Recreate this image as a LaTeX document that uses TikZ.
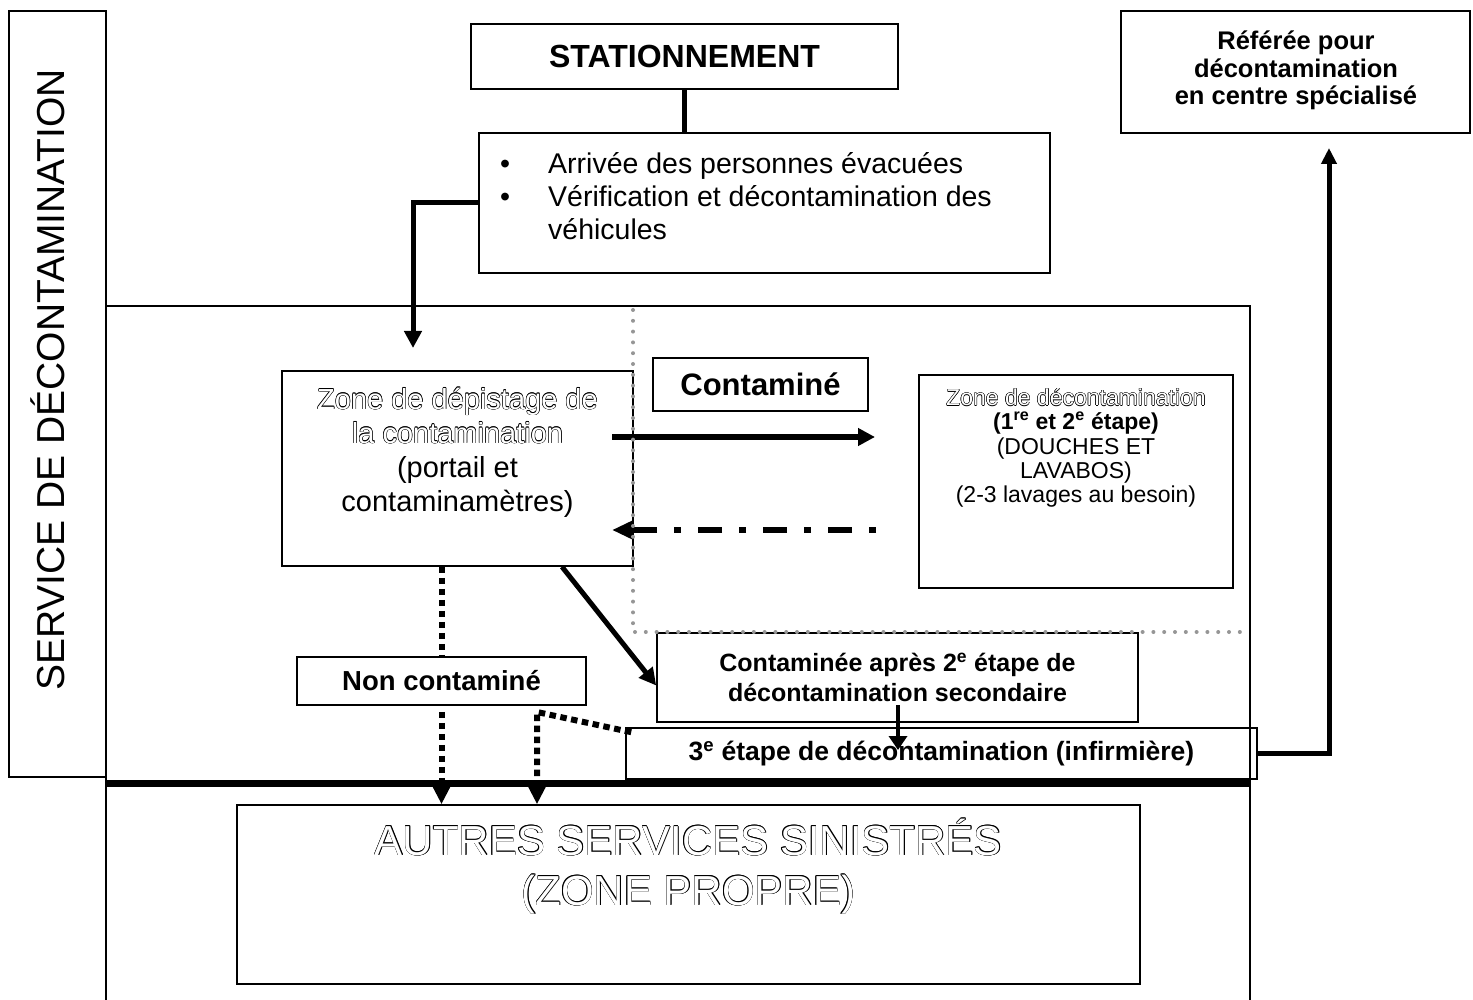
\documentclass[tikz,border=0pt]{standalone}
\usepackage{fontspec}
\setmainfont{Liberation Sans}
\usetikzlibrary{arrows.meta,calc}
\definecolor{dotgray}{RGB}{150,150,150}
\newlength\olw
\setlength\olw{0.5pt}
\newcommand\olc[3]{\makebox[0pt][l]{\hspace*{#1}\raisebox{#2}{#3}}}
\newcommand\outl[1]{{\color{black}\olc{\olw}{0pt}{#1}\olc{-\olw}{0pt}{#1}\olc{0pt}{\olw}{#1}\olc{0pt}{-\olw}{#1}\olc{.7\olw}{.7\olw}{#1}\olc{-.7\olw}{.7\olw}{#1}\olc{.7\olw}{-.7\olw}{#1}\olc{-.7\olw}{-.7\olw}{#1}}{\color{white}#1}}
\begin{document}
\begin{tikzpicture}[x=1pt,y=-1pt,
  box/.style={draw, line width=1.6pt, inner sep=0pt, align=center},
  conn/.style={line width=4.5pt},
  arr/.style={line width=5.5pt, -{Triangle[length=17pt,width=17pt]}},
  dotarr/.style={line width=6pt, dash pattern=on 6.5pt off 4.5pt, -{Triangle[length=17pt,width=16pt]}},
  dotline/.style={line width=6pt, dash pattern=on 6.5pt off 4.5pt},
  dasharr/.style={line width=6pt, dash pattern=on 7pt off 17pt on 24pt off 17pt, -{Triangle[length=20pt,width=17pt]}},
  graydots/.style={draw=dotgray, line width=4pt, dash pattern=on 0pt off 10.8pt, line cap=round},
]
\fill[white] (0,0) rectangle (1473,1000);
\useasboundingbox (0,0) rectangle (1473,1000);

% frame of the service
\draw[line width=1.6pt] (106,1004) -- (106,306) -- (1250,306) -- (1250,1004);
\draw[line width=7pt] (106,783) -- (1250,783);

% nodes
\node[box, minimum width=97pt, minimum height=766pt] (svcbox) at (57.5,394) {};
\node[rotate=90, inner sep=0pt, font=\fontsize{39}{45}\selectfont] (svc) at (48,380) {SERVICE DE DÉCONTAMINATION};

\node[box, minimum width=427pt, minimum height=65pt, font=\fontsize{32}{38}\selectfont\bfseries] (stat) at (684.5,56.5) {STATIONNEMENT};

\node[box, minimum width=571pt, minimum height=140pt] (bul) at (764.5,203) {};
\node[anchor=north west, inner sep=0pt, align=left, font=\fontsize{28.5}{33}\selectfont] (bultxt) at (500,152)
  {\makebox[48pt][l]{•}Arrivée des personnes évacuées\\
   \makebox[48pt][l]{•}Vérification et décontamination des\\
   \hspace*{48pt}véhicules};

\node[box, minimum width=349pt, minimum height=122pt] (ref) at (1295.5,72) {};
\node[anchor=north, inner sep=0pt, align=center, font=\fontsize{25.5}{27.5}\selectfont\bfseries] (reftxt) at (1296,31)
  {Référée pour\\décontamination\\en centre spécialisé};

\node[box, minimum width=351pt, minimum height=195pt] (zdep) at (457.5,468.5) {};
\node[anchor=north, inner sep=0pt, align=center, font=\fontsize{29}{34}\selectfont] (zdeptxt) at (457.5,387)
  {\outl{Zone de dépistage de}\\\outl{la contamination}\\(portail et\\contaminamètres)};

\node[box, minimum width=215pt, minimum height=53pt, font=\fontsize{31}{36}\selectfont\bfseries] (cont) at (760.5,384.5) {Contaminé};

\node[box, minimum width=314pt, minimum height=213pt] (zdec) at (1076,481.5) {};
\node[anchor=north, inner sep=0pt, align=center, font=\fontsize{23}{24.2}\selectfont] (zdectxt) at (1076,388)
  {\outl{Zone de décontamination}\\\textbf{(1\textsuperscript{re} et 2\textsuperscript{e} étape)}\\(DOUCHES ET\\LAVABOS)\\(2-3 lavages au besoin)};

\node[box, minimum width=289pt, minimum height=48pt, font=\fontsize{27.5}{32}\selectfont\bfseries] (nonc) at (441.5,681) {Non contaminé};

\node[box, minimum width=481pt, minimum height=89pt, font=\fontsize{25}{30}\selectfont\bfseries] (capres) at (897.5,677.5)
  {Contaminée après 2\textsuperscript{e} étape de\\décontamination secondaire};

\node[box, minimum width=631pt, minimum height=51pt, font=\fontsize{26.5}{30}\selectfont\bfseries] (etape3) at (941.5,753.5)
  {3\textsuperscript{e} étape de décontamination (infirmière)};

\node[box, minimum width=903pt, minimum height=179pt] (autres) at (688.5,894.5) {};
\node[anchor=north, inner sep=0pt, align=center, font=\fontsize{42}{50}\selectfont] (autrestxt) at (688.5,818)
  {\outl{AUTRES SERVICES SINISTRÉS}\\\outl{(ZONE PROPRE)}};

% connectors
\draw[conn] (stat.south) -- (stat.south |- bul.north);
\coordinate (t1) at (413,348);
\draw[arr, line width=5pt] (bul.west) -| (t1);

\coordinate (c1s) at (612,437);
\coordinate (c1e) at (875,437);
\draw[arr] (c1s) -- (c1e);
\coordinate (c2s) at (876,530);
\coordinate (c2e) at (612,530);
\draw[dasharr] (c2s) -- (c2e);

\draw[arr, line width=5pt] ($(zdep.south)+(104.5,0)$) -- ($(capres.west)+(0,8)$);

\draw[dotline] (nonc.north |- zdep.south) -- (nonc.north);
\draw[dotarr] ($(nonc.south)+(0,6)$) -- (nonc.south |- autres.north);
\coordinate (j) at (537,712);
\draw[dotarr] ($(etape3.north west)+(6,5)$) -- (j) -- (j |- autres.north);

\coordinate (a3s) at (898,705);
\coordinate (a3e) at (898,750);
\draw[line width=4pt, -{Triangle[length=14pt,width=18pt]}] (a3s) -- (a3e);

\coordinate (rt) at (1329,148);
\draw[line width=5pt, -{Triangle[length=16pt,width=15pt]}] (etape3.east) -| (rt);

% grey dotted boundary of the decontamination zone
\draw[graydots] (633,310) -- (633,632) -- (1244,632);
\end{tikzpicture}
\end{document}
